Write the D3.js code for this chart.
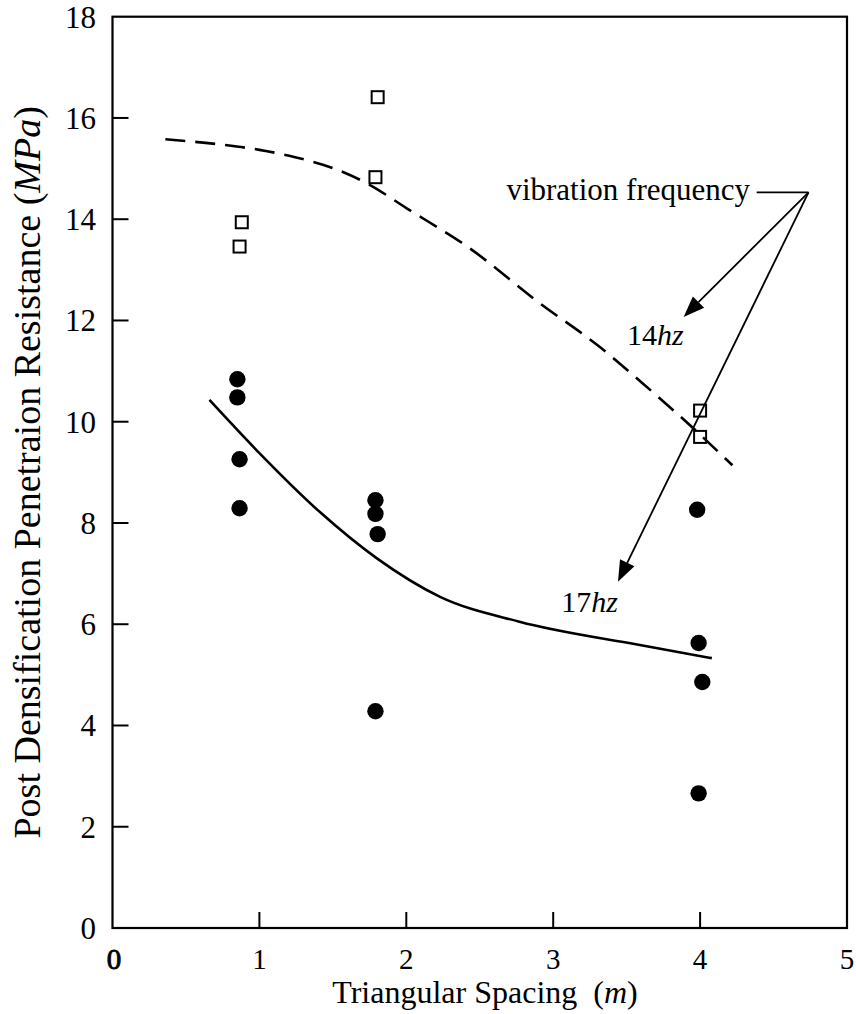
<!DOCTYPE html>
<html>
<head>
<meta charset="utf-8">
<script src="https://cdn.jsdelivr.net/npm/d3@7"></script>
<style>
  html, body { margin: 0; padding: 0; background: #fff; }
  svg { display: block; }
  text { font-family: "Liberation Serif", "Times New Roman", "DejaVu Serif", serif; fill: #000; }
</style>
</head>
<body>
<svg id="chart" width="856" height="1014"></svg>
<script>
// Tick values
const xTickValues = [0, 1, 2, 3, 4, 5];
const yTickValues = [0, 2, 4, 6, 8, 10, 12, 14, 16, 18];

// Measured points, 14 Hz vibration (open squares)
const spacing14 = [0.88, 0.865, 1.805, 1.79, 4.0, 4.0];
const resistance14 = [13.94, 13.46, 16.41, 14.83, 10.22, 9.70];

// Measured points, 17 Hz vibration (filled circles)
const spacing17 = [0.85, 0.85, 0.865, 0.865, 1.79, 1.79, 1.805, 1.79, 3.98, 3.99, 4.015, 3.99];
const resistance17 = [10.84, 10.48, 9.26, 8.29, 8.45, 8.18, 7.78, 4.28, 8.26, 5.63, 4.86, 2.66];

// Trend curves
const trend14X = [0.36, 0.75, 1.0, 1.25, 1.5, 1.75, 2.0, 2.42, 2.9, 3.32, 3.6, 3.95, 4.22];
const trend14Y = [15.58, 15.47, 15.37, 15.22, 15.01, 14.68, 14.22, 13.45, 12.36, 11.47, 10.78, 9.88, 9.14];
const trend17X = [0.66, 1.0, 1.41, 1.8, 2.23, 2.77, 3.59, 4.08];
const trend17Y = [10.43, 9.38, 8.22, 7.30, 6.54, 6.05, 5.59, 5.33];

// Annotation anchors (data units)
const calloutOrigin = [4.738, 14.53];
const calloutLineStart = [4.385, 14.53];
const arrowTip14 = [3.888, 12.07];
const arrowTip17 = [3.441, 6.84];
const calloutLabel = { text: "vibration frequency", x: 4.34, y: 14.37 };
const freqLabels = [
  { num: "14", unit: "hz", x: 3.888, y: 11.51 },
  { num: "17", unit: "hz", x: 3.441, y: 6.235 }
];

const svg = d3.select("#chart");
const x = d3.scaleLinear().domain([0, 5]).range([112.5, 847]);
const y = d3.scaleLinear().domain([0, 18]).range([928, 16.7]);

// Frame
svg.append("rect")
  .attr("x", x(0)).attr("y", y(18))
  .attr("width", x(5) - x(0)).attr("height", y(0) - y(18))
  .attr("fill", "none").attr("stroke", "#000").attr("stroke-width", 2.2);

// Inward ticks
svg.append("g").selectAll("line")
  .data(yTickValues.filter(v => v > 0 && v < 18))
  .join("line")
  .attr("x1", x(0)).attr("x2", x(0) + 16)
  .attr("y1", d => y(d)).attr("y2", d => y(d))
  .attr("stroke", "#000").attr("stroke-width", 2);

svg.append("g").selectAll("line")
  .data(xTickValues.filter(v => v > 0 && v < 5))
  .join("line")
  .attr("x1", d => x(d)).attr("x2", d => x(d))
  .attr("y1", y(0)).attr("y2", y(0) - 16)
  .attr("stroke", "#000").attr("stroke-width", 2);

// Tick labels
svg.append("g").selectAll("text")
  .data(yTickValues)
  .join("text")
  .attr("x", 96).attr("y", d => y(d) + 11)
  .attr("text-anchor", "end")
  .attr("font-size", 31)
  .text(d => d);

svg.append("g").selectAll("text")
  .data(xTickValues)
  .join("text")
  .attr("x", d => x(d) + (d === 0 ? 1.5 : 0)).attr("y", 969)
  .attr("text-anchor", "middle")
  .attr("font-size", 29)
  .attr("stroke", d => d === 0 ? "#000" : "none")
  .attr("stroke-width", 0.9)
  .text(d => d);

// Axis titles
const xTitle = svg.append("text")
  .attr("x", 485).attr("y", 1003)
  .attr("text-anchor", "middle")
  .attr("font-size", 32)
  .style("white-space", "pre");
xTitle.append("tspan").text("Triangular Spacing  (");
xTitle.append("tspan").attr("font-style", "italic").text("m");
xTitle.append("tspan").text(")");

const yTitle = svg.append("text")
  .attr("transform", `translate(40, ${(y(0) + y(18)) / 2}) rotate(-90)`)
  .attr("text-anchor", "middle")
  .attr("font-size", 38);
yTitle.append("tspan").text("Post Densification Penetraion Resistance (");
yTitle.append("tspan").attr("font-style", "italic").text("MPa");
yTitle.append("tspan").text(")");

// Trend curves
const line = d3.line().x(d => x(d[0])).y(d => y(d[1])).curve(d3.curveMonotoneX);

svg.append("path")
  .datum(d3.zip(trend14X, trend14Y))
  .attr("d", line)
  .attr("fill", "none").attr("stroke", "#000")
  .attr("stroke-width", 2.6)
  .attr("stroke-dasharray", "20,10");

svg.append("path")
  .datum(d3.zip(trend17X, trend17Y))
  .attr("d", line)
  .attr("fill", "none").attr("stroke", "#000")
  .attr("stroke-width", 2.6);

// Markers
svg.append("g").selectAll("circle")
  .data(d3.zip(spacing17, resistance17))
  .join("circle")
  .attr("cx", d => x(d[0])).attr("cy", d => y(d[1]))
  .attr("r", 8.2)
  .attr("fill", "#000");

svg.append("g").selectAll("rect")
  .data(d3.zip(spacing14, resistance14))
  .join("rect")
  .attr("x", d => x(d[0]) - 6).attr("y", d => y(d[1]) - 6)
  .attr("width", 12).attr("height", 12)
  .attr("fill", "none").attr("stroke", "#000").attr("stroke-width", 2);

// Callout
svg.append("line")
  .attr("x1", x(calloutLineStart[0])).attr("y1", y(calloutLineStart[1]))
  .attr("x2", x(calloutOrigin[0])).attr("y2", y(calloutOrigin[1]))
  .attr("stroke", "#000").attr("stroke-width", 1.8);

function arrow(tip) {
  const x0 = x(calloutOrigin[0]), y0 = y(calloutOrigin[1]);
  const x1 = x(tip[0]), y1 = y(tip[1]);
  const dx = x1 - x0, dy = y1 - y0, len = Math.hypot(dx, dy);
  const ux = dx / len, uy = dy / len;
  const L = 21, W = 16;
  const bx = x1 - ux * L, by = y1 - uy * L;
  svg.append("line")
    .attr("x1", x0).attr("y1", y0).attr("x2", bx).attr("y2", by)
    .attr("stroke", "#000").attr("stroke-width", 1.8);
  svg.append("polygon")
    .attr("points", [
      [x1, y1],
      [bx - uy * W / 2, by + ux * W / 2],
      [bx + uy * W / 2, by - ux * W / 2]
    ].map(p => p.join(",")).join(" "))
    .attr("fill", "#000");
}
arrow(arrowTip14);
arrow(arrowTip17);

svg.append("text")
  .attr("x", x(calloutLabel.x)).attr("y", y(calloutLabel.y))
  .attr("text-anchor", "end")
  .attr("font-size", 31)
  .text(calloutLabel.text);

freqLabels.forEach(f => {
  const t = svg.append("text")
    .attr("x", x(f.x)).attr("y", y(f.y))
    .attr("text-anchor", "end")
    .attr("font-size", 30);
  t.append("tspan").text(f.num);
  t.append("tspan").attr("font-style", "italic").text(f.unit);
});
</script>
</body>
</html>
